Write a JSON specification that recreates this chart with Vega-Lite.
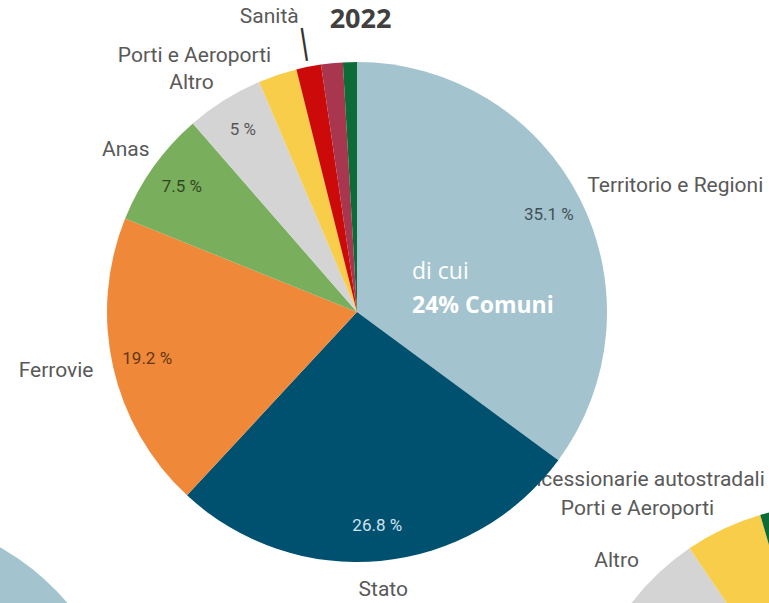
{
  "$schema": "https://vega.github.io/schema/vega-lite/v6.json",
  "width": 769,
  "height": 603,
  "autosize": {"type": "none"},
  "padding": 0,
  "background": "#ffffff",
  "config": {
    "view": {"stroke": null},
    "locale": {"number": {"decimal": ".", "thousands": ",", "grouping": [3], "currency": ["", ""], "percent": " %"}}
  },
  "title": {"text": "2022", "font": "Open Sans", "fontSize": 27, "fontWeight": "bold", "color": "#404040", "frame": "group", "anchor": "middle", "dx": -24, "offset": -34},
  "datasets": {
    "principale": [
      {"anno": 2022, "categoria": "Territorio e Regioni", "quota": 0.351},
      {"anno": 2022, "categoria": "Stato", "quota": 0.268},
      {"anno": 2022, "categoria": "Ferrovie", "quota": 0.192},
      {"anno": 2022, "categoria": "Anas", "quota": 0.075},
      {"anno": 2022, "categoria": "Altro", "quota": 0.05},
      {"anno": 2022, "categoria": "Porti e Aeroporti", "quota": 0.025},
      {"anno": 2022, "categoria": "Sanità", "quota": 0.016},
      {"anno": 2022, "categoria": "Altri enti", "quota": 0.014},
      {"anno": 2022, "categoria": "Concessionarie autostradali", "quota": 0.009}
    ],
    "sinistra": [
      {"anno": 2021, "categoria": "Territorio e Regioni", "quota": 0.34},
      {"anno": 2021, "categoria": "Stato", "quota": 0.28},
      {"anno": 2021, "categoria": "Ferrovie", "quota": 0.19},
      {"anno": 2021, "categoria": "Anas", "quota": 0.08},
      {"anno": 2021, "categoria": "Altro", "quota": 0.05},
      {"anno": 2021, "categoria": "Porti e Aeroporti", "quota": 0.03},
      {"anno": 2021, "categoria": "Sanità", "quota": 0.015},
      {"anno": 2021, "categoria": "Altri enti", "quota": 0.01},
      {"anno": 2021, "categoria": "Concessionarie autostradali", "quota": 0.005}
    ],
    "destra": [
      {"anno": 2023, "categoria": "Territorio e Regioni", "quota": 0.33},
      {"anno": 2023, "categoria": "Stato", "quota": 0.265},
      {"anno": 2023, "categoria": "Ferrovie", "quota": 0.187},
      {"anno": 2023, "categoria": "Anas", "quota": 0.065},
      {"anno": 2023, "categoria": "Altro", "quota": 0.058},
      {"anno": 2023, "categoria": "Porti e Aeroporti", "quota": 0.05},
      {"anno": 2023, "categoria": "Concessionarie autostradali", "quota": 0.016},
      {"anno": 2023, "categoria": "Sanità", "quota": 0.015},
      {"anno": 2023, "categoria": "Altri enti", "quota": 0.014}
    ],
    "nota": [
      {"anno": 2022, "testo": "di cui"},
      {"anno": 2022, "testo": "24% Comuni"}
    ]
  },
  "encoding": {
    "x": {"field": "anno", "type": "quantitative", "axis": null, "scale": {"domain": [2021, 2022, 2023], "range": [-123, 357, 830], "zero": false, "nice": false}},
    "y": {"field": "anno", "type": "quantitative", "axis": null, "scale": {"domain": [2021, 2022, 2023], "range": [765, 312, 755], "zero": false, "nice": false}}
  },
  "layer": [
    {
      "data": {"name": "destra"},
      "mark": {"type": "text", "radius": 272, "align": "right", "baseline": "middle", "font": "Roboto", "fontSize": 21, "color": "#595959"},
      "encoding": {
        "theta": {"field": "quota", "type": "quantitative", "stack": true},
        "order": {"field": "quota", "type": "quantitative", "sort": "descending"},
        "text": {"field": "categoria", "type": "nominal", "condition": {"test": "indexof(['Altro','Porti e Aeroporti'], datum.categoria) < 0", "value": ""}}
      }
    },
    {
      "data": {"name": "destra"},
      "mark": {"type": "text", "radius": 283, "align": "right", "baseline": "middle", "font": "Roboto", "fontSize": 21, "color": "#595959"},
      "encoding": {
        "theta": {"field": "quota", "type": "quantitative", "stack": true},
        "order": {"field": "quota", "type": "quantitative", "sort": "descending"},
        "text": {"field": "categoria", "type": "nominal", "condition": {"test": "datum.categoria != 'Concessionarie autostradali'", "value": ""}}
      }
    },
    {
      "data": {"name": "sinistra"},
      "mark": {"type": "arc", "radius": 250},
      "encoding": {
        "theta": {"field": "quota", "type": "quantitative", "stack": true},
        "order": {"field": "quota", "type": "quantitative", "sort": "descending"},
        "color": {"field": "categoria", "type": "nominal", "legend": null, "scale": {"domain": ["Territorio e Regioni", "Stato", "Ferrovie", "Anas", "Altro", "Porti e Aeroporti", "Sanità", "Altri enti", "Concessionarie autostradali"], "range": ["#a3c3cf", "#00506f", "#ef8838", "#79ae5c", "#d4d4d4", "#f7cd4a", "#cc0a0a", "#a8364e", "#0d6b38"]}}
      }
    },
    {
      "data": {"name": "destra"},
      "mark": {"type": "arc", "radius": 250},
      "encoding": {
        "theta": {"field": "quota", "type": "quantitative", "stack": true},
        "order": {"field": "quota", "type": "quantitative", "sort": "descending"},
        "color": {"field": "categoria", "type": "nominal", "legend": null}
      }
    },
    {
      "data": {"name": "principale"},
      "mark": {"type": "arc", "radius": 250},
      "encoding": {
        "theta": {"field": "quota", "type": "quantitative", "stack": true},
        "order": {"field": "quota", "type": "quantitative", "sort": "descending"},
        "color": {"field": "categoria", "type": "nominal", "legend": null}
      }
    },
    {
      "data": {"name": "principale"},
      "mark": {"type": "text", "radius": 215, "align": "center", "baseline": "middle", "font": "Roboto", "fontSize": 17},
      "encoding": {
        "theta": {"field": "quota", "type": "quantitative", "stack": true},
        "order": {"field": "quota", "type": "quantitative", "sort": "descending"},
        "text": {"field": "quota", "type": "quantitative", "format": ".1~%", "condition": {"test": "datum.quota < 0.05", "value": ""}},
        "color": {"condition": {"test": "datum.categoria == 'Stato'", "value": "#d2e3ec"}, "value": "#000000"},
        "opacity": {"condition": {"test": "datum.categoria == 'Stato'", "value": 1}, "value": 0.6}
      }
    },
    {
      "data": {"name": "principale"},
      "mark": {"type": "text", "radius": 270, "align": "right", "baseline": "middle", "font": "Roboto", "fontSize": 21, "color": "#595959"},
      "encoding": {
        "theta": {"field": "quota", "type": "quantitative", "stack": true},
        "order": {"field": "quota", "type": "quantitative", "sort": "descending"},
        "text": {"field": "categoria", "type": "nominal", "condition": {"test": "indexof(['Ferrovie','Altro','Porti e Aeroporti'], datum.categoria) < 0", "value": ""}}
      }
    },
    {
      "data": {"name": "principale"},
      "mark": {"type": "text", "radius": 262, "align": "right", "baseline": "middle", "dx": 6, "dy": -10, "font": "Roboto", "fontSize": 21, "color": "#595959"},
      "encoding": {
        "theta": {"field": "quota", "type": "quantitative", "stack": true},
        "order": {"field": "quota", "type": "quantitative", "sort": "descending"},
        "text": {"field": "categoria", "type": "nominal", "condition": {"test": "datum.categoria != 'Anas'", "value": ""}}
      }
    },
    {
      "data": {"name": "principale"},
      "mark": {"type": "text", "radius": 258, "align": "left", "baseline": "middle", "dy": -10, "font": "Roboto", "fontSize": 21, "color": "#595959"},
      "encoding": {
        "theta": {"field": "quota", "type": "quantitative", "stack": true},
        "order": {"field": "quota", "type": "quantitative", "sort": "descending"},
        "text": {"field": "categoria", "type": "nominal", "condition": {"test": "datum.categoria != 'Territorio e Regioni'", "value": ""}}
      }
    },
    {
      "data": {"name": "principale"},
      "mark": {"type": "text", "radius": 279, "align": "center", "baseline": "middle", "font": "Roboto", "fontSize": 21, "color": "#595959"},
      "encoding": {
        "theta": {"field": "quota", "type": "quantitative", "stack": true},
        "order": {"field": "quota", "type": "quantitative", "sort": "descending"},
        "text": {"field": "categoria", "type": "nominal", "condition": {"test": "datum.categoria != 'Stato'", "value": ""}}
      }
    },
    {
      "data": {"name": "principale"},
      "mark": {"type": "text", "radius": 301, "align": "right", "baseline": "middle", "font": "Roboto", "fontSize": 21, "color": "#595959"},
      "encoding": {
        "theta": {"field": "quota", "type": "quantitative", "stack": true},
        "order": {"field": "quota", "type": "quantitative", "sort": "descending"},
        "text": {"field": "categoria", "type": "nominal", "condition": {"test": "datum.categoria != 'Sanità'", "value": ""}}
      }
    },
    {
      "data": {"name": "principale"},
      "mark": {"type": "text", "radius": 271, "align": "center", "baseline": "middle", "angle": -9, "font": "DejaVu Sans", "fontSize": 28, "color": "#333333"},
      "encoding": {
        "theta": {"field": "quota", "type": "quantitative", "stack": true},
        "order": {"field": "quota", "type": "quantitative", "sort": "descending"},
        "text": {"condition": {"test": "datum.categoria == 'Sanità'", "value": "│"}, "value": ""}
      }
    },
    {
      "data": {"name": "nota"},
      "transform": [{"filter": "datum.testo == 'di cui'"}],
      "mark": {"type": "text", "align": "left", "baseline": "alphabetic", "dx": 55, "dy": -33, "font": "Open Sans", "fontSize": 23, "color": "#ffffff"},
      "encoding": {"text": {"field": "testo", "type": "nominal"}}
    },
    {
      "data": {"name": "nota"},
      "transform": [{"filter": "datum.testo == '24% Comuni'"}],
      "mark": {"type": "text", "align": "left", "baseline": "alphabetic", "dx": 55, "dy": 1, "font": "Open Sans", "fontSize": 23, "fontWeight": "bold", "color": "#ffffff"},
      "encoding": {"text": {"field": "testo", "type": "nominal"}}
    }
  ]
}
